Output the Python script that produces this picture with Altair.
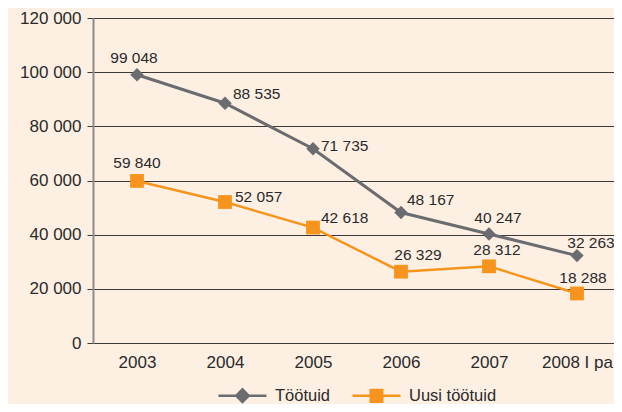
import altair as alt
import pandas as pd

# ---- data ----
years = ["2003", "2004", "2005", "2006", "2007", "2008 I pa"]
series_names = ["Töötuid", "Uusi töötuid"]
tootuid = [99048, 88535, 71735, 48167, 40247, 32263]
uusi_tootuid = [59840, 52057, 42618, 26329, 28312, 18288]
y_ticks = [0, 20000, 40000, 60000, 80000, 100000, 120000]

# ---- styles ----
GRAY = "#6b6c70"
ORANGE = "#f7941d"
BG = "#fdf0e3"
TEXT = "#2a2a2a"
FONT = "Liberation Sans"
AXIS_FS = 17
LEGEND_FS = 16.5
LABEL_FS = 15.5

# label offsets (dx, dy, align) per point, style only
gray_label_style = [(-3, -17, "center"), (8, -9, "left"), (8, -3, "left"),
                    (6, -13, "left"), (9, -16, "center"), (14, -13, "center")]
orange_label_style = [(0, -18, "center"), (10, -5, "left"), (8, -10, "left"),
                      (17, -17, "center"), (8, -16, "center"), (6, -15, "center")]

rows = []
for name, vals in zip(series_names, [tootuid, uusi_tootuid]):
    for i, (yr, v) in enumerate(zip(years, vals)):
        rows.append({"year": yr, "series": name, "value": v, "idx": i})
df = pd.DataFrame(rows)

fmt = ("datum.value == 0 ? '0' : format(floor(datum.value / 1000), 'd') + ' ' + "
       "format(datum.value % 1000, '03d')")

x_enc = alt.X("year:N", sort=years,
              scale=alt.Scale(type="point", padding=0.5, range=[0, 528]),
              axis=alt.Axis(title=None, labelAngle=0, ticks=False, domain=False,
                            grid=False, labelPadding=11, labelFontSize=AXIS_FS,
                            labelFont=FONT, labelColor=TEXT))
y_enc = alt.Y("value:Q", scale=alt.Scale(domain=[0, 120000], nice=False),
              axis=alt.Axis(title=None, values=y_ticks, labelExpr=fmt,
                            tickSize=6, tickColor="#3a3a3a", tickWidth=1,
                            grid=True, gridColor="#3a3a3a", gridWidth=1,
                            domainColor="#8c8c8c", domainWidth=2,
                            labelPadding=6, labelFontSize=AXIS_FS, labelFont=FONT,
                            labelColor=TEXT))

base = alt.Chart(df).transform_calculate(label=fmt).encode(x=x_enc, y=y_enc)

gray = base.transform_filter(alt.datum.series == series_names[0])
orange = base.transform_filter(alt.datum.series == series_names[1])

layers = [
    orange.mark_line(color=ORANGE, strokeWidth=2.5),
    orange.mark_point(shape="square", filled=True, size=190, color=ORANGE, opacity=1),
    gray.mark_line(color=GRAY, strokeWidth=3),
    gray.mark_point(shape="diamond", filled=True, size=180, color=GRAY, opacity=1),
]

diamond_path = "M-1,0L1,0M0,-0.26L0.26,0L0,0.26L-0.26,0Z"
square_path = "M-1,0L1,0M-0.24,-0.24L0.24,-0.24L0.24,0.24L-0.24,0.24Z"

def leg():
    return alt.Legend(title=None, orient="none", legendX=124, legendY=352,
                      direction="horizontal",
                      symbolSize=2304, symbolStrokeWidth=2.5, symbolOpacity=1,
                      labelFontSize=LEGEND_FS, labelFont=FONT, labelColor=TEXT,
                      labelOffset=7, columnPadding=16)

legend_layer = base.mark_point(filled=True, opacity=0, size=10).encode(
    color=alt.Color("series:N", scale=alt.Scale(domain=series_names, range=[GRAY, ORANGE]), legend=leg()),
    stroke=alt.Stroke("series:N", scale=alt.Scale(domain=series_names, range=[GRAY, ORANGE]), legend=leg()),
    shape=alt.Shape("series:N", scale=alt.Scale(domain=series_names, range=[diamond_path, square_path]), legend=leg()),
)
layers.append(legend_layer)

for name, styles in zip(series_names, [gray_label_style, orange_label_style]):
    for i, (dx, dy, al) in enumerate(styles):
        layers.append(
            base.transform_filter((alt.datum.series == name) & (alt.datum.idx == i))
            .mark_text(dx=dx, dy=dy, align=al, baseline="middle", fontSize=LABEL_FS,
                       font=FONT, color=TEXT)
            .encode(text="label:N")
        )

chart = alt.layer(*layers).properties(
    width=521, height=325,
    padding={"left": 85, "top": 10, "right": 0, "bottom": 61},
    autosize=alt.AutoSizeParams(type="none"),
).configure(background=BG).configure_view(stroke=None)

chart.save("out.html", embed_options={"renderer": "svg", "actions": False})
